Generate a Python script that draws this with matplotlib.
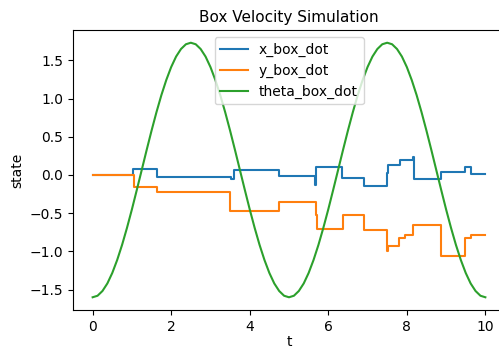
import numpy as np
import matplotlib
matplotlib.use("Agg")
import matplotlib.pyplot as plt

# theta_box_dot sampled every 0.125 s
theta_t = [i * 0.125 for i in range(81)]
theta_v = [-1.600, -1.580, -1.518, -1.419, -1.282, -1.112, -0.914, -0.691, -0.450, -0.195,
           0.065, 0.326, 0.580, 0.821, 1.044, 1.242, 1.412, 1.549, 1.648, 1.710,
           1.730, 1.710, 1.648, 1.549, 1.412, 1.242, 1.044, 0.821, 0.580, 0.326,
           0.065, -0.195, -0.450, -0.691, -0.914, -1.112, -1.282, -1.419, -1.518, -1.580,
           -1.600, -1.580, -1.518, -1.419, -1.282, -1.112, -0.914, -0.691, -0.450, -0.195,
           0.065, 0.326, 0.580, 0.821, 1.044, 1.242, 1.412, 1.549, 1.648, 1.710,
           1.730, 1.710, 1.648, 1.549, 1.412, 1.242, 1.044, 0.821, 0.580, 0.326,
           0.065, -0.195, -0.450, -0.691, -0.914, -1.112, -1.282, -1.419, -1.518, -1.580,
           -1.600]

# x_box_dot step changes (time, new value)
x_t = [0.0, 1.02, 1.65, 3.52, 3.60, 4.75, 5.67, 5.70, 6.35, 6.90, 7.49, 7.53,
       7.82, 8.15, 8.19, 8.87, 9.49, 9.63, 10.0]
x_v = [0.0, 0.075, -0.03, -0.05, 0.07, -0.01, -0.13, 0.11, -0.04, -0.145, 0.03, 0.13,
       0.20, 0.23, -0.055, 0.035, 0.10, 0.01, 0.01]

# y_box_dot step changes (time, new value)
y_t = [0.0, 1.05, 1.65, 3.50, 4.75, 5.68, 5.72, 6.37, 6.90, 7.50, 7.53, 7.81,
       7.95, 8.17, 8.87, 9.49, 9.63, 10.0]
y_v = [0.0, -0.16, -0.225, -0.47, -0.36, -0.52, -0.71, -0.52, -0.72, -1.0, -0.93, -0.82,
       -0.79, -0.66, -1.06, -0.83, -0.78, -0.78]

fig = plt.figure(figsize=(4.99, 3.49), dpi=100)
ax = fig.add_axes([73 / 499, 39 / 349, 432 / 499, 280 / 349])
ax.plot(x_t, x_v, drawstyle="steps-post", label="x_box_dot")
ax.plot(y_t, y_v, drawstyle="steps-post", label="y_box_dot")
ax.plot(theta_t, theta_v, label="theta_box_dot")
ax.set_title("Box Velocity Simulation", fontsize=11)
ax.set_xlabel("t", labelpad=1)
ax.set_ylabel("state")
ax.legend(loc="upper center")
fig.savefig("out.png", dpi=100)
